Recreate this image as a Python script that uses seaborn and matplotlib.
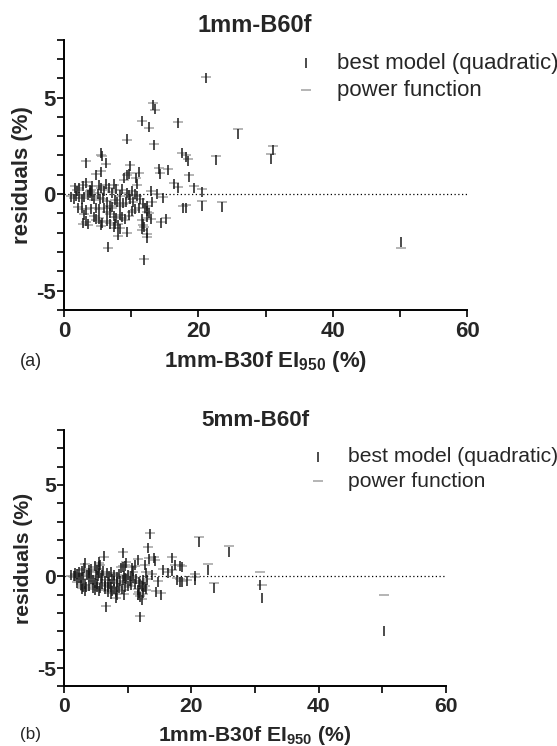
import matplotlib
matplotlib.use('Agg')
import matplotlib.pyplot as plt
import matplotlib.ticker as mticker
import seaborn as sns
import pandas as pd

# ── Data ─────────────────────────────────────────────────────────────────────
# x: 1mm-B30f EI950 (%), shared by both panels
x_ei950 = [1.1, 1.5, 1.7, 1.8, 2.0, 2.1, 2.3, 2.3, 2.7, 2.7, 2.8, 2.9, 3.0, 3.0, 3.2, 3.3,
           3.3, 3.3, 3.5, 3.6, 3.9, 3.9, 4.0, 4.0, 4.2, 4.2, 4.5, 4.5, 4.8, 4.8, 4.8, 5.0,
           5.2, 5.2, 5.2, 5.3, 5.5, 5.5, 5.5, 5.5, 5.6, 5.7, 5.8, 5.9, 5.9, 6.2, 6.25, 6.4,
           6.4, 6.4, 6.6, 6.7, 6.9, 6.9, 6.9, 7.1, 7.2, 7.4, 7.4, 7.4, 7.6, 7.6, 7.8, 7.8,
           7.9, 8.1, 8.1, 8.3, 8.3, 8.3, 8.4, 8.6, 8.6, 8.8, 8.9, 9.1, 9.2, 9.3, 9.3, 9.4,
           9.4, 9.6, 9.6, 9.6, 9.8, 9.8, 10.1, 10.1, 10.3, 10.6, 10.6, 10.7, 10.9, 10.9, 11.1, 11.1,
           11.3, 11.6, 11.6, 11.6, 11.8, 11.8, 11.9, 11.9, 12.0, 12.3, 12.3, 12.4, 12.4, 12.4, 12.7, 12.7,
           12.9, 12.9, 13.1, 13.2, 13.4, 13.5, 13.9, 14.1, 14.3, 14.5, 14.7, 15.2, 15.5, 16.3, 16.9, 17.0,
           17.5, 17.7, 18.2, 18.2, 18.5, 18.6, 19.3, 20.6, 20.6, 21.2, 22.6, 23.5, 25.9, 30.8, 31.1, 50.2]

# (a) 1mm-B60f residuals (%)
best_a = [-0.16, -0.24, 0.33, -0.1, 0.16, -0.7, 0.33, -0.16, -0.24, -0.73, -1.5, 0.42, -0.16, -1.1, 0.56, 1.63,
          -0.85, -1.4, -1.55, -0.03, 0.2, 0.07, 0.16, -0.8, 0.42, -0.1, -0.24, -1.2, 1.0, -0.7, -1.3, 0.0,
          0.45, -0.8, -1.3, -0.24, 2.1, 1.16, 0.33, -1.6, 1.98, -1.5, -0.2, 0.16, -0.73, 0.5, 1.63, -0.4,
          -0.9, -1.38, -2.75, 0.33, -0.6, -1.0, -1.55, 0.07, -0.65, 0.5, -1.15, -1.7, -0.3, -1.55, 0.24, -1.25,
          -0.4, -1.6, -2.1, -0.07, -0.55, -1.08, -1.8, 0.24, -1.2, -0.48, 0.81, -1.3, -0.4, 2.85, 0.99, 0.07,
          -1.98, 1.05, -0.07, -1.1, 1.45, -0.24, 0.16, -0.9, -0.4, 0.0, -0.8, 0.81, 0.5, -0.1, 1.16, -0.7,
          -0.24, 3.77, -1.3, -1.8, -0.44, -1.55, -1.7, -3.4, -0.7, -0.9, -2.3, -0.6, -2.0, -1.2, 3.47, -0.97,
          0.16, -1.3, -0.4, 4.6, 2.55, 4.4, 0.0, 1.3, 1.05, -1.5, -0.2, -1.3, 1.25, 0.5, 0.3, 3.7,
          2.1, -0.75, -0.7, 1.9, 1.7, 0.9, 0.3, 0.1, -0.6, 6.0, 1.75, -0.66, 3.1, 1.8, 2.3, -2.5]
power_a = [-0.1, -0.2, 0.4, -0.05, 0.2, -0.65, 0.3, -0.2, -0.2, -0.8, -1.55, 0.45, -0.1, -1.05, 0.6, 1.7,
           -0.8, -1.45, -1.6, 0.0, 0.15, 0.1, 0.2, -0.75, 0.4, -0.1, -0.3, -1.15, 1.05, -0.75, -1.35, 0.05,
           0.4, -0.8, -1.25, -0.2, 2.0, 1.2, 0.3, -1.65, 1.95, -1.45, -0.25, 0.2, -0.7, 0.45, 1.55, -0.35,
           -0.95, -1.4, -2.8, 0.3, -0.6, -1.05, -1.5, 0.1, -0.7, 0.45, -1.2, -1.75, -0.3, -1.6, 0.2, -1.2,
           -0.45, -1.55, -2.15, -0.1, -0.6, -1.1, -1.75, 0.2, -1.25, -0.5, 0.75, -1.35, -0.45, 2.8, 1.0, 0.05,
           -2.0, 1.1, -0.1, -1.15, 1.5, -0.25, 0.15, -0.95, -0.4, -0.05, -0.85, 0.85, 0.45, -0.1, 1.1, -0.75,
           -0.25, 3.8, -1.35, -1.85, -0.5, -1.6, -1.7, -3.35, -0.75, -0.95, -2.25, -0.6, -2.05, -1.25, 3.4, -1.0,
           0.15, -1.3, -0.4, 4.7, 2.6, 4.35, 0.0, 1.35, 1.1, -1.45, -0.15, -1.25, 1.3, 0.55, 0.35, 3.75,
           2.15, -0.6, -0.55, 2.0, 1.8, 1.0, 0.4, 0.25, -0.35, 6.05, 1.95, -0.4, 3.35, 2.05, 2.5, -2.8]

# (b) 5mm-B60f residuals (%)
best_b = [0.1, 0.0, 0.2, 0.05, 0.15, -0.35, 0.25, -0.1, -0.1, -0.45, -0.7, 0.3, -0.05, -0.55, 0.45, 0.75,
          -0.4, -0.8, -0.6, 0.1, 0.35, 0.0, 0.2, -0.5, 0.4, -0.15, -0.2, -0.65, 0.55, -0.35, -0.75, 0.1,
          0.35, -0.4, -0.6, 0.0, 0.8, 0.55, 0.2, -0.8, 0.65, -0.65, -0.1, 0.1, -0.4, 0.3, 1.1, -0.25,
          -0.5, -0.7, -1.65, 0.2, -0.3, -0.55, -0.85, 0.0, -0.4, 0.25, -0.6, -0.95, -0.15, -0.8, 0.1, -0.7,
          -0.25, -0.85, -1.2, -0.05, -0.3, -0.6, -1.0, 0.15, -0.65, -0.25, 0.45, -0.7, -0.2, 1.3, 0.5, 0.05,
          -1.0, 0.55, -0.1, -0.6, 0.75, -0.15, 0.1, -0.5, -0.25, 0.0, -0.45, 0.45, 0.3, -0.1, 0.6, -0.4,
          -0.15, 0.9, -0.75, -1.0, -0.3, -0.9, -1.1, -2.2, -0.4, -0.5, -1.3, -0.2, -0.9, -0.6, 0.6, -0.55,
          0.2, -0.7, -0.2, 1.55, 0.95, 2.3, 0.1, 1.0, 0.85, -0.85, -0.3, -1.0, 0.35, 0.2, 0.3, 1.0,
          0.6, -0.2, -0.3, 0.55, 0.5, -0.3, -0.25, 0.0, -0.2, 1.9, 0.35, -0.65, 1.35, -0.45, -1.2, -3.0]
power_b = [0.05, -0.05, 0.15, 0.1, 0.1, -0.3, 0.2, -0.05, -0.15, -0.4, -0.65, 0.35, 0.0, -0.5, 0.4, 0.7,
           -0.45, -0.75, -0.65, 0.15, 0.3, 0.05, 0.25, -0.45, 0.35, -0.1, -0.25, -0.6, 0.5, -0.4, -0.7, 0.05,
           0.4, -0.35, -0.55, -0.05, 0.75, 0.6, 0.25, -0.75, 0.6, -0.7, -0.05, 0.15, -0.35, 0.25, 1.05, -0.2,
           -0.45, -0.75, -1.6, 0.15, -0.35, -0.5, -0.8, 0.05, -0.35, 0.2, -0.55, -0.9, -0.2, -0.85, 0.15, -0.65,
           -0.2, -0.8, -1.15, 0.0, -0.35, -0.55, -0.95, 0.1, -0.7, -0.3, 0.5, -0.75, -0.25, 1.35, 0.55, 0.0,
           -0.95, 0.6, -0.05, -0.55, 0.8, -0.1, 0.15, -0.45, -0.2, 0.05, -0.5, 0.5, 0.25, -0.05, 0.55, -0.35,
           -0.1, 0.95, -0.7, -0.95, -0.25, -0.85, -1.05, -2.15, -0.35, -0.55, -1.25, -0.25, -0.95, -0.65, 0.65, -0.5,
           0.25, -0.75, -0.15, 1.6, 1.0, 2.35, 0.15, 1.05, 0.9, -0.8, -0.25, -0.9, 0.4, 0.25, 0.35, 1.05,
           0.65, -0.1, -0.15, 0.6, 0.55, -0.25, -0.2, 0.15, -0.05, 2.15, 0.68, -0.34, 1.67, 0.26, -0.45, -1.0]

panel_titles = ['1mm-B60f', '5mm-B60f']
panel_tags = ['(a)', '(b)']
series_labels = ['best model (quadratic)', 'power function']

# ── Style ────────────────────────────────────────────────────────────────────
sns.set_style('ticks')
plt.rcParams['font.family'] = ['Liberation Sans', 'DejaVu Sans']
plt.rcParams['mathtext.fontset'] = 'custom'
plt.rcParams['mathtext.rm'] = 'Liberation Sans'
plt.rcParams['mathtext.bf'] = 'Liberation Sans:bold'
plt.rcParams['axes.unicode_minus'] = False

fig = plt.figure(figsize=(5.57, 7.46), dpi=100)
ax_a = fig.add_axes([0.1149, 0.5847, 0.7240, 0.3622])
ax_b = fig.add_axes([0.1149, 0.0800, 0.6858, 0.3436])

# axes, residual series, legend anchor, title y, ylabel x, tag y, size factor
panels = [
    (ax_a, best_a, power_a, (0.566, 0.862), 1 - 25 / 746, -0.102, 1 - 362 / 746, 1.0),
    (ax_b, best_b, power_b, (0.632, 0.848), 1 - 420 / 746, -0.107, 1 - 734 / 746, 0.95),
]

for i, (ax, best, power, leg_xy, title_y, ylab_x, tag_y, k) in enumerate(panels):
    df = pd.DataFrame({'x': x_ei950, 'best': best, 'power': power})

    ax.axhline(0, color='black', linestyle=(0, (1, 2)), linewidth=0.9, zorder=1)

    sns.scatterplot(data=df, x='x', y='power', marker='_', color='#a0a0a0', s=60 * k * k,
                    linewidth=1.1, label=series_labels[1], ax=ax, zorder=2)
    sns.scatterplot(data=df, x='x', y='best', marker='|', color='#1a1a1a', s=60 * k * k,
                    linewidth=1.1, label=series_labels[0], ax=ax, zorder=3)

    ax.set_xlim(0, 60)
    ax.set_ylim(-6, 8)
    ax.xaxis.set_major_locator(mticker.MultipleLocator(20))
    ax.xaxis.set_minor_locator(mticker.MultipleLocator(10))
    ax.yaxis.set_major_locator(mticker.MultipleLocator(5))
    ax.yaxis.set_minor_locator(mticker.MultipleLocator(1))
    ax.tick_params(which='both', length=5 * k, width=1.2, direction='out', color='black')
    ax.tick_params(axis='x', labelsize=16 * k, pad=3)
    ax.tick_params(axis='y', labelsize=16 * k, pad=1)
    for lab in ax.get_xticklabels() + ax.get_yticklabels():
        lab.set_fontweight('bold')

    sns.despine(ax=ax)
    for sp in ['left', 'bottom']:
        ax.spines[sp].set_linewidth(1.4)
        ax.spines[sp].set_color('black')

    ax.set_xlabel(r'1mm-B30f EI$_{\mathbf{950}}$ (%)', fontsize=16 * k, fontweight='bold')
    ax.set_ylabel('residuals (%)', fontsize=16 * k, fontweight='bold')
    ax.xaxis.set_label_coords(0.5, -0.19)
    ax.yaxis.set_label_coords(ylab_x, 0.5)
    ax.xaxis.label.set_va('center')
    ax.yaxis.label.set_va('center')

    handles, labels = ax.get_legend_handles_labels()
    order = [labels.index(series_labels[0]), labels.index(series_labels[1])]
    ax.legend([handles[j] for j in order], [labels[j] for j in order],
              loc='center left', bbox_to_anchor=leg_xy, frameon=False,
              fontsize=16 * k, handlelength=1.2, handletextpad=0.8, labelspacing=0.25,
              borderaxespad=0, borderpad=0)

    fig.text(0.458, title_y, panel_titles[i], ha='center', va='center',
             fontsize=17 * k, fontweight='bold')
    fig.text(0.055, tag_y, panel_tags[i], ha='center', va='center', fontsize=13 * k)

fig.savefig('out.png', dpi=100)
